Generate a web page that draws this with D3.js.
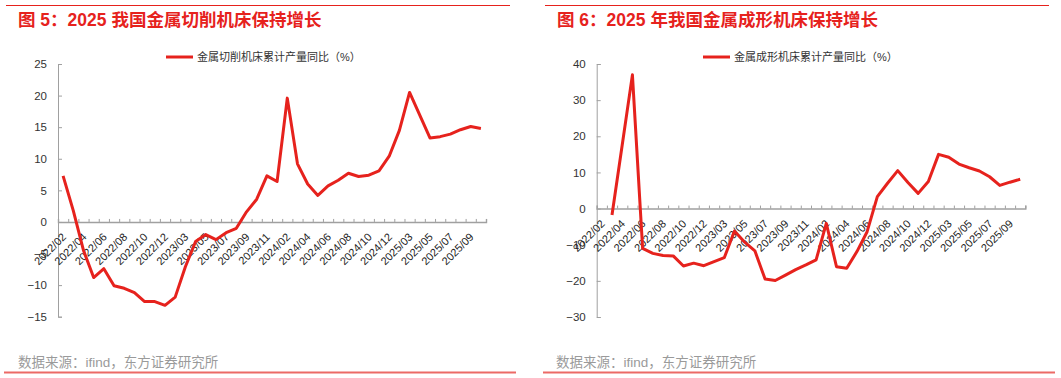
<!DOCTYPE html>
<html>
<head>
<meta charset="utf-8">
<script src="https://cdn.jsdelivr.net/npm/d3@7"></script>
<style>
  body { margin: 0; background: #fff; }
  svg { display: block; }
  text { font-family: "Liberation Sans", Arial, "Noto Sans CJK SC", sans-serif; }
</style>
</head>
<body>
<div id="chart"></div>
<script>
// categorías (mes) comunes a los dos gráficos
const categories = [
  "2022/02","2022/03","2022/04","2022/05","2022/06","2022/07","2022/08","2022/09","2022/10","2022/11","2022/12",
  "2023/02","2023/03","2023/04","2023/05","2023/06","2023/07","2023/08","2023/09","2023/10","2023/11","2023/12",
  "2024/02","2024/03","2024/04","2024/05","2024/06","2024/07","2024/08","2024/09","2024/10","2024/11","2024/12",
  "2025/02","2025/03","2025/04","2025/05","2025/06","2025/07","2025/08","2025/09","2025/10"
];
// etiquetas visibles del eje x (una de cada dos)
const tickLabels = [
  "2022/02","2022/04","2022/06","2022/08","2022/10","2022/12","2023/03","2023/05","2023/07","2023/09","2023/11",
  "2024/02","2024/04","2024/06","2024/08","2024/10","2024/12","2025/03","2025/05","2025/07","2025/09"
];

// 金属切削机床累计产量同比（%）
const cuttingValues = [
  7.3, 1.8, -4.5, -8.8, -7.4, -10.1, -10.5, -11.2, -12.6, -12.6, -13.2,
  -11.9, -7.1, -3.1, -2.0, -2.8, -1.7, -1.0, 1.6, 3.6, 7.3, 6.4,
  19.6, 9.2, 6.0, 4.2, 5.7, 6.6, 7.7, 7.2, 7.4, 8.1, 10.4,
  14.5, 20.5, 16.9, 13.3, 13.5, 13.9, 14.6, 15.1, 14.8
];
// 金属成形机床累计产量同比（%）
const formingValues = [
  null, -1.8, 17.6, 37.0, -11.0, -12.4, -13.0, -13.1, -15.9, -15.1, -15.8,
  -14.7, -13.6, -6.2, -9.3, -11.7, -19.5, -19.9, -18.4, -16.9, -15.6, -14.2,
  -4.1, -16.1, -16.5, -11.9, -6.4, 3.3, 7.0, 10.5, 7.2, 4.2, 7.5,
  15.0, 14.2, 12.3, 11.3, 10.4, 8.8, 6.4, 7.3, 8.1
];

const cuttingTicks = [-15, -10, -5, 0, 5, 10, 15, 20, 25];
const formingTicks = [-30, -20, -10, 0, 10, 20, 30, 40];

const RED = "#e6221d";
const AXIS = "#a0a0a0";

const svg = d3.select("#chart").append("svg")
    .attr("width", 1061)
    .attr("height", 378);

// paneles
const panels = [
  {
    title: "图 5：2025 我国金属切削机床保持增长",
    legend: "金属切削机床累计产量同比（%）",
    values: cuttingValues, ticks: cuttingTicks, domain: [-15, 25],
    left: 4, right: 516, titleX: 18,
    x0: 58, x1: 486, y0: 64, y1: 316.7,
    legendX: 166, footX: 18
  },
  {
    title: "图 6：2025 年我国金属成形机床保持增长",
    legend: "金属成形机床累计产量同比（%）",
    values: formingValues, ticks: formingTicks, domain: [-30, 40],
    left: 543, right: 1055, titleX: 557,
    x0: 596.7, x1: 1025.3, y0: 64, y1: 317,
    legendX: 703, footX: 556
  }
];

panels.forEach(p => {
    const g = svg.append("g");

    // línea roja superior y título
    g.append("line")
        .attr("x1", p.left + 2).attr("x2", p.right - 6)
        .attr("y1", 5.5).attr("y2", 5.5)
        .attr("stroke", RED).attr("stroke-width", 1);
    g.append("text")
        .attr("x", p.titleX).attr("y", 26)
        .attr("fill", RED)
        .style("font-size", "17.5px")
        .style("font-weight", "bold")
        .text(p.title);

    // escalas
    const x = d3.scaleBand().domain(categories).range([p.x0, p.x1]).padding(0);
    const y = d3.scaleLinear().domain(p.domain).range([p.y1, p.y0]);
    const cx = d => x(d) + x.bandwidth() / 2;

    // eje y
    const yAxis = d3.axisLeft(y).tickValues(p.ticks).tickSize(-4).tickPadding(11);
    const gy = g.append("g")
        .attr("transform", `translate(${p.x0},0)`)
        .call(yAxis);
    gy.select(".domain").attr("stroke", AXIS);
    gy.selectAll(".tick line").attr("stroke", AXIS);
    gy.selectAll(".tick text")
        .attr("fill", "#333")
        .style("font-size", "11.5px");

    // eje x en el cero: marcas en los límites de cada categoría
    const edge = d3.scaleLinear().domain([0, categories.length]).range([p.x0, p.x1]);
    const gx = g.append("g")
        .attr("transform", `translate(0,${y(0)})`)
        .call(d3.axisTop(edge).tickValues(d3.range(categories.length + 1)).tickSize(3).tickFormat(""));
    gx.select(".domain").attr("stroke", AXIS).attr("stroke-width", 1.4);
    gx.selectAll(".tick line").attr("stroke", AXIS);

    // etiquetas giradas
    g.append("g")
        .selectAll("text")
        .data(tickLabels)
        .enter()
        .append("text")
        .attr("transform", d => `translate(${cx(d) + 1},${y(0) + 13}) rotate(-45)`)
        .attr("text-anchor", "end")
        .attr("dy", "0.35em")
        .attr("fill", "#222")
        .style("font-size", "11px")
        .text(d => d);

    // serie
    const line = d3.line()
        .defined(d => d[1] !== null)
        .x(d => cx(d[0]))
        .y(d => y(d[1]));
    g.append("path")
        .datum(categories.map((c, i) => [c, p.values[i]]))
        .attr("d", line)
        .attr("fill", "none")
        .attr("stroke", RED)
        .attr("stroke-width", 3)
        .attr("stroke-linejoin", "round");

    // leyenda
    g.append("line")
        .attr("x1", p.legendX).attr("x2", p.legendX + 27)
        .attr("y1", 57).attr("y2", 57)
        .attr("stroke", RED).attr("stroke-width", 3);
    g.append("text")
        .attr("x", p.legendX + 31).attr("y", 61)
        .attr("fill", "#333")
        .style("font-size", "11px")
        .text(p.legend);

    // fuente y línea inferior
    g.append("text")
        .attr("x", p.footX).attr("y", 367)
        .attr("fill", "#9a9a9a")
        .style("font-size", "13.5px")
        .text("数据来源：ifind，东方证券研究所");
    g.append("line")
        .attr("x1", p.left).attr("x2", p.right)
        .attr("y1", 372.5).attr("y2", 372.5)
        .attr("stroke", "#ec6a66").attr("stroke-width", 2);
});
</script>
</body>
</html>
